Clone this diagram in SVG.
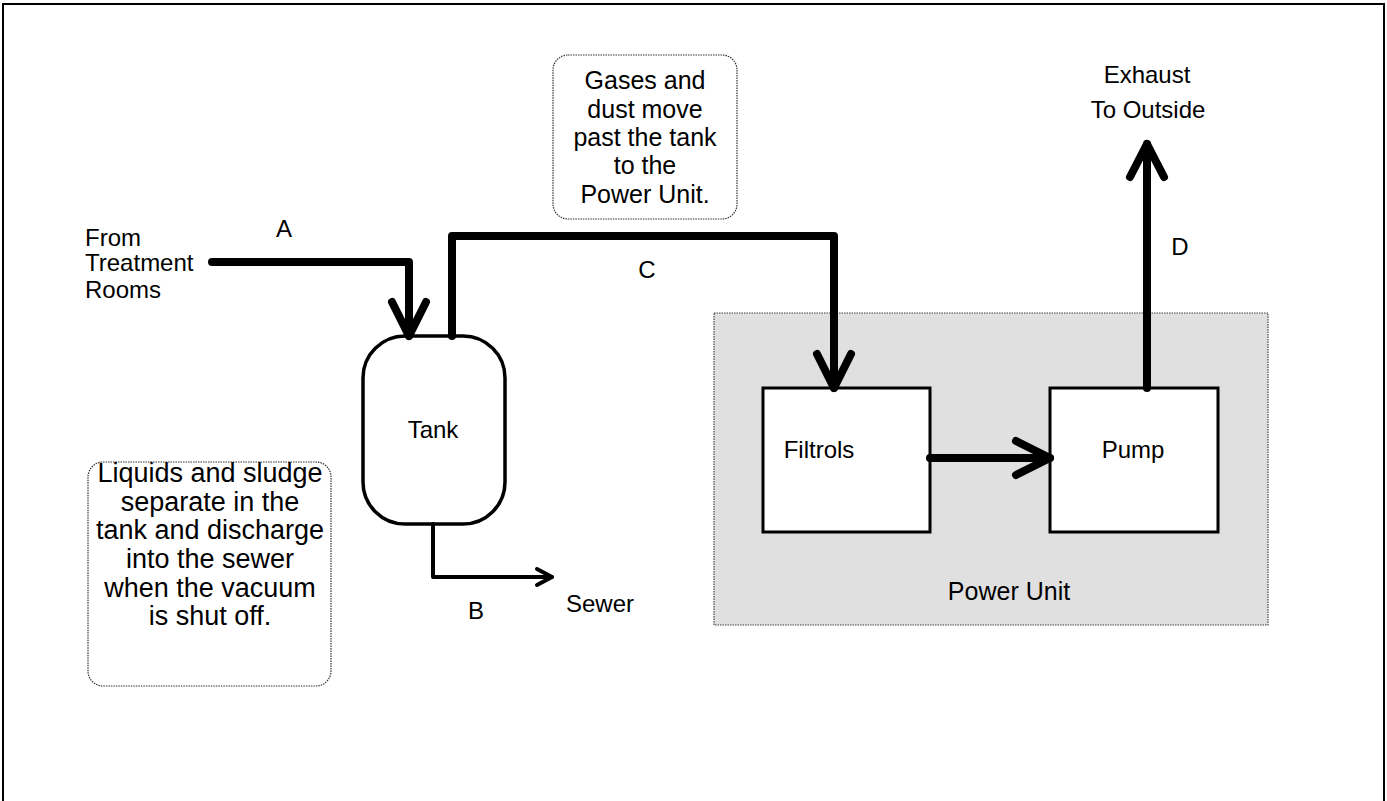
<svg xmlns="http://www.w3.org/2000/svg" width="1387" height="801" viewBox="0 0 1387 801">
<style>
text{font-family:"Liberation Sans",Arial,sans-serif;font-size:24px;fill:#000}
.c{text-anchor:middle}
.big{font-size:27px}
.mid{font-size:25px}
.pipe{fill:none;stroke:#000;stroke-width:8;stroke-linecap:round;stroke-linejoin:round}
.thin{fill:none;stroke:#000;stroke-width:4;stroke-linecap:round;stroke-linejoin:round}
.note{fill:#fff;stroke:#333;stroke-width:1.2;stroke-dasharray:1.5 1}
.box{fill:#fff;stroke:#000;stroke-width:3}
</style>
<rect x="0" y="0" width="1387" height="801" fill="#fff"/>
<path d="M3,810 V4 H1384 V810" fill="none" stroke="#000" stroke-width="2"/>
<g id="power-unit">
<rect x="714" y="313" width="554" height="312" fill="#e0e0e0" stroke="#444" stroke-width="1.2" stroke-dasharray="1.5 1"/>
<text class="c mid" x="1009" y="600">Power Unit</text>
</g>
<g id="tank">
<rect x="363" y="336" width="142" height="188" rx="42" ry="42" fill="#fff" stroke="#000" stroke-width="3.5"/>
<text class="c" x="433" y="438">Tank</text>
</g>
<g id="filtrols">
<rect class="box" x="763" y="388" width="167" height="144"/>
<text class="c" x="819" y="458">Filtrols</text>
</g>
<g id="pump">
<rect class="box" x="1050" y="388" width="168" height="144"/>
<text class="c" x="1133" y="458">Pump</text>
</g>
<g id="note-gases">
<rect class="note" x="553" y="55" width="184" height="164" rx="15" ry="15"/>
<text class="c mid" x="645" y="89">Gases and</text>
<text class="c mid" x="645" y="118">dust move</text>
<text class="c mid" x="645" y="146">past the tank</text>
<text class="c mid" x="645" y="174">to the</text>
<text class="c mid" x="645" y="203">Power Unit.</text>
</g>
<g id="note-liquids">
<rect class="note" x="88" y="462" width="243" height="224" rx="15" ry="15"/>
<text class="c big" x="210" y="482">Liquids and sludge</text>
<text class="c big" x="210" y="511">separate in the</text>
<text class="c big" x="210" y="539">tank and discharge</text>
<text class="c big" x="210" y="568">into the sewer</text>
<text class="c big" x="210" y="597">when the vacuum</text>
<text class="c big" x="210" y="625">is shut off.</text>
</g>
<g id="source">
<text x="85" y="246">From</text>
<text x="85" y="271">Treatment</text>
<text x="85" y="298">Rooms</text>
</g>
<g id="exhaust">
<text class="c" x="1147" y="83">Exhaust</text>
<text class="c" x="1148" y="118">To Outside</text>
</g>
<g id="sewer">
<text x="566" y="612">Sewer</text>
</g>
<g id="connectors">
<path class="pipe" d="M212,262 H409 V336"/>
<path class="pipe" d="M392,302 L409,336 L426,302"/>
<text x="284" y="237" class="c">A</text>
<path class="pipe" d="M452,336 V236 H834 V388"/>
<path class="pipe" d="M817,354 L834,388 L851,354"/>
<text x="647" y="278" class="c">C</text>
<path class="thin" d="M433,524 V577 H552"/>
<path class="thin" d="M537,569 L552,577 L537,585"/>
<text x="476" y="619" class="c">B</text>
<path class="pipe" d="M930,458 H1050"/>
<path class="pipe" d="M1016,441 L1050,458 L1016,475"/>
<path class="pipe" d="M1147,388 V144"/>
<path class="pipe" d="M1130,177 L1147,144 L1164,177"/>
<text x="1180" y="255" class="c">D</text>
</g>
</svg>
